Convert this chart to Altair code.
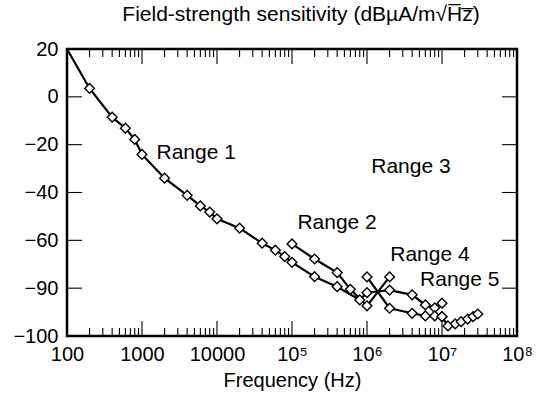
import altair as alt
import pandas as pd

# ---- data ----
r1_f = [100, 200, 400, 600, 800, 1000, 2000, 4000, 6000, 8000, 10000, 20000, 40000,
        60000, 80000, 1e5, 2e5, 4e5, 8e5, 1e6, 2e6, 4e6, 6e6, 8e6, 1e7]
r1_v = [20, 3.5, -8.5, -13.1, -17.8, -24.1, -34.0, -41.2, -45.6, -48.2, -51.0, -54.9, -61.2,
        -64.1, -66.8, -69.2, -75.2, -79.4, -84.9, -81.9, -80.8, -82.8, -87.0, -88.2, -86.3]
r2_f = [1e5, 2e5, 4e5, 6e5, 1e6, 2e6]
r2_v = [-61.5, -67.8, -73.5, -80.5, -87.4, -75.3]
r4_f = [1e6, 2e6, 4e6, 6e6, 8e6, 1e7]
r4_v = [-75.3, -88.4, -90.5, -91.6, -91.6, -91.9]
r5_f = [1e7, 1.2e7, 1.5e7, 1.8e7, 2.2e7, 2.6e7, 3e7]
r5_v = [-91.9, -95.8, -94.9, -94.0, -92.9, -91.9, -90.8]

label_text = ["Range 1", "Range 2", "Range 3", "Range 4", "Range 5"]
label_f = [1560, 1.18e5, 1.14e6, 2.04e6, 5.1e6]
label_v = [-23.4, -52.7, -29.3, -66.1, -76.6]

x_tick_vals = [100, 1000, 10000, 100000, 1000000, 10000000, 100000000]
x_tick_labels = ["100", "1000", "10000", "10\u2075", "10\u2076", "10\u2077", "10\u2078"]
y_tick_vals = [-100, -80, -60, -40, -20, 0, 20]
y_tick_labels = ["\u2212100", "\u221290", "\u221260", "\u221240", "\u221220", "0", "20"]

minor_mult = [2, 3, 4, 5, 6, 7, 8, 9]
decades = [100, 1000, 10000, 1e5, 1e6, 1e7]
x_minor = [m * d for d in decades for m in minor_mult]
x_major_inner = [1000, 10000, 1e5, 1e6, 1e7]
y_major_inner = [-80, -60, -40, -20, 0]

rows = []
for name, fs, vs in [("Range 1", r1_f, r1_v), ("Range 2", r2_f, r2_v),
                     ("Range 4", r4_f, r4_v), ("Range 5", r5_f, r5_v)]:
    for i, (f, v) in enumerate(zip(fs, vs)):
        rows.append({"series": name, "order": i, "f": f, "v": v,
                     "marker": 0 if (name == "Range 1" and i == 0) else 1})
df = pd.DataFrame(rows)
labels_df = pd.DataFrame({"f": label_f, "v": label_v, "t": label_text})

W, H = 450, 287
FONT = "Liberation Sans"
FS = 20
FS_TEXT = 21


def lookup_expr(vals, labs):
    v = ",".join(str(x) for x in vals)
    l = ",".join("'" + x + "'" for x in labs)
    return f"[{l}][indexof([{v}], round(datum.value))]"


xscale = alt.Scale(type="log", domain=[100, 1e8], nice=False)
yscale = alt.Scale(domain=[-100, 20], nice=False, zero=False)

x_axis = alt.Axis(values=x_tick_vals, labelExpr=lookup_expr(x_tick_vals, x_tick_labels),
                  ticks=False, domain=False, grid=False, labelFont=FONT, labelFontSize=FS,
                  labelColor="black", labelPadding=8, labelFlush=False, labelOverlap=False,
                  title="Frequency (Hz)", titleFont=FONT, titleFontSize=FS,
                  titleFontWeight="normal", titleColor="black", titlePadding=6)
y_axis = alt.Axis(values=y_tick_vals, labelExpr=lookup_expr(y_tick_vals, y_tick_labels),
                  ticks=False, domain=False, grid=False, labelFont=FONT, labelFontSize=FS,
                  labelColor="black", labelPadding=9, labelFlush=False, labelOverlap=False,
                  title="")

X = alt.X("f:Q", scale=xscale, axis=x_axis)
Y = alt.Y("v:Q", scale=yscale, axis=y_axis)

base = alt.Chart(df)
lines = base.mark_line(color="black", strokeWidth=2.2).encode(
    x=X, y=Y, detail="series:N", order="order:Q")
points = base.transform_filter("datum.marker == 1").mark_point(
    shape="diamond", filled=True, fill="white", stroke="black", strokeWidth=1.4,
    size=95, opacity=1
).encode(x=X, y=Y)


def xticks(vals, y0, y1):
    return alt.Chart(pd.DataFrame({"f": vals})).mark_rule(color="black", strokeWidth=1.1).encode(
        x=X, y=alt.value(y0), y2=alt.value(y1))


def yticks(vals, x0, x1):
    return alt.Chart(pd.DataFrame({"v": vals})).mark_rule(color="black", strokeWidth=1.1).encode(
        y=Y, x=alt.value(x0), x2=alt.value(x1))


tick_layers = [
    xticks(x_minor, H, H - 8), xticks(x_minor, 0, 8),
    xticks(x_major_inner, H, H - 15), xticks(x_major_inner, 0, 15),
    yticks(y_major_inner, 0, 15), yticks(y_major_inner, W, W - 15),
]

texts = alt.Chart(labels_df).mark_text(
    align="left", baseline="middle", font=FONT, fontSize=FS_TEXT, color="black"
).encode(x=X, y=Y, text="t:N")

chart = alt.layer(lines, *tick_layers, points, texts).properties(
    width=W, height=H,
    title=alt.TitleParams(
        text="Field-strength sensitivity (dB\u00b5A/m\u221aH\u0305z\u0305)",
        font=FONT, fontSize=FS_TEXT, fontWeight="normal", color="black",
        anchor="middle", dx=9, offset=14),
    padding={"left": 67, "top": 49, "right": 23, "bottom": 62},
    autosize=alt.AutoSizeParams(type="none"),
    background="white",
).configure_view(stroke="black", strokeWidth=2.5)

chart.save("out.html", embed_options={"renderer": "svg", "actions": False})
